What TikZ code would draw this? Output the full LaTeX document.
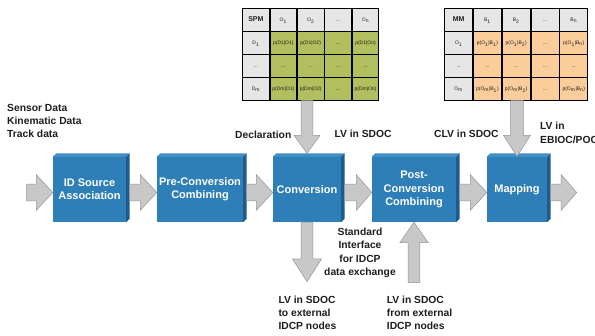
\documentclass[tikz,border=0pt]{standalone}
\usepackage{fontspec}
\setmainfont{Liberation Sans}
\usetikzlibrary{calc,matrix,backgrounds}
\definecolor{boxblue}{RGB}{46,127,184}
\definecolor{boxside}{RGB}{30,92,142}
\definecolor{boxtop}{RGB}{64,142,196}
\definecolor{arrfill}{RGB}{200,200,200}
\definecolor{arrline}{RGB}{150,150,150}
\definecolor{hdrgray}{RGB}{230,230,230}
\definecolor{spmgreen}{RGB}{178,191,94}
\definecolor{mmpeach}{RGB}{251,205,155}
\definecolor{txt}{RGB}{30,30,30}
\newcommand\blockarrow[5]{%
  \coordinate (ba-h) at ($(#2)!#5!(#1)$);
  \filldraw[blockarr] ($(#1)!#3!90:(#2)$) -- ($(ba-h)!#3!-90:(#1)$) -- ($(ba-h)!#4!-90:(#1)$) -- (#2) -- ($(ba-h)!#4!90:(#1)$) -- ($(ba-h)!#3!90:(#1)$) -- ($(#1)!#3!-90:(#2)$) -- cycle;}
\newcommand\threed[1]{%
  \fill[boxtop] (#1.north west) -- ++(3.5pt,3.5pt) -- ([shift={(3.5pt,3.5pt)}]#1.north east) -- (#1.north east) -- cycle;
  \fill[boxside] (#1.north east) -- ++(3.5pt,3.5pt) -- ([shift={(3.5pt,3.5pt)}]#1.south east) -- (#1.south east) -- cycle;}
\tikzset{
  blockarr/.style={fill=arrfill, draw=arrline, line width=0.5pt, line join=miter},
  box/.style={fill=boxblue, text=white, font=\bfseries\fontsize{11}{13.3}\selectfont, align=center, inner sep=0pt, minimum height=65pt},
  lbl/.style={font=\bfseries\fontsize{10.3}{13.3}\selectfont, text=txt, inner sep=0pt},
  tbl/.style={matrix of nodes, anchor=north west, inner sep=0pt, column sep=0pt, row sep=0pt,
    nodes={draw=black, line width=0.8pt, inner sep=0pt, outer sep=0pt, minimum height=22.2pt,
      text height=4pt, text depth=1.2pt, anchor=center,
      font=\fontsize{5}{6}\selectfont, text=txt}},
  hdr/.style={font=\bfseries\fontsize{7}{8}\selectfont}
}
\begin{document}
\begin{tikzpicture}[x=1pt,y=-1pt]
\useasboundingbox[fill=white] (0,0) rectangle (595,336);

% tables
\matrix (spm) [tbl, nodes={minimum width=26.6pt, fill=spmgreen},
  row 1/.style={nodes={fill=hdrgray}}, column 1/.style={nodes={fill=hdrgray}}] at (242,8.3) {
|[hdr]| SPM & O\textsubscript{1} & O\textsubscript{2} & ... & O\textsubscript{n} \\
D\textsubscript{1} & p(D1\textbar O1) & p(D1\textbar O2) & ... & p(D1\textbar On) \\
... & ... & ... & ... & ... \\
D\textsubscript{m} & p(Dm\textbar O1) & p(Dm\textbar O2) & ... & p(Dm\textbar On) \\
};
\matrix (mm) [tbl, nodes={minimum width=28pt, fill=mmpeach},
  row 1/.style={nodes={fill=hdrgray}}, column 1/.style={nodes={fill=hdrgray}}] at (444,8.3) {
|[hdr]| MM & B\textsubscript{1} & B\textsubscript{2} & ... & B\textsubscript{n} \\
O\textsubscript{1} & p(O\textsubscript{1}\textbar B\textsubscript{1}) & p(O\textsubscript{1}\textbar B\textsubscript{2}) & ... & p(O\textsubscript{1}\textbar B\textsubscript{n}) \\
... & ... & ... & ... & ... \\
O\textsubscript{m} & p(O\textsubscript{m}\textbar B\textsubscript{1}) & p(O\textsubscript{m}\textbar B\textsubscript{2}) & ... & p(O\textsubscript{m}\textbar B\textsubscript{n}) \\
};
\begin{scope}[on background layer]
\fill[black!35] ([shift={(1.5pt,-1.8pt)}]spm.south west) rectangle ([shift={(1.5pt,-1.8pt)}]spm.north east);
\fill[black!35] ([shift={(1.5pt,-1.8pt)}]mm.south west) rectangle ([shift={(1.5pt,-1.8pt)}]mm.north east);
\end{scope}

% boxes
\node[box, minimum width=73pt] (idsa) at (89.5,189.5) {ID Source\\Association};
\node[box, minimum width=86pt] (pcc) at (200,189.5) {Pre-Conversion\\Combining};
\node[box, minimum width=68pt] (conv) at (307,189.5) {Conversion};
\node[box, minimum width=84pt] (post) at (414,189.5) {Post-\\Conversion\\Combining};
\node[box, minimum width=60pt] (map) at (517,189.5) {Mapping};
\foreach \b in {idsa,pcc,conv,post,map} {\threed{\b}}

% horizontal arrows
\coordinate (in) at (26.7,192.5);
\coordinate (out) at (576.7,192.5);
\coordinate (a0) at ([yshift=-3pt]idsa.west);
\coordinate (a1s) at ([xshift=3.5pt,yshift=-3pt]idsa.east);
\coordinate (a1e) at ([yshift=-3pt]pcc.west);
\coordinate (a2s) at ([xshift=3.5pt,yshift=-3pt]pcc.east);
\coordinate (a2e) at ([yshift=-3pt]conv.west);
\coordinate (a3s) at ([xshift=3.5pt,yshift=-3pt]conv.east);
\coordinate (a3e) at ([yshift=-3pt]post.west);
\coordinate (a4s) at ([xshift=3.5pt,yshift=-3pt]post.east);
\coordinate (a4e) at ([yshift=-3pt]map.west);
\coordinate (a5s) at ([xshift=3.5pt,yshift=-3pt]map.east);
\blockarrow{in}{a0}{8.3pt}{17.8pt}{16.5pt}
\blockarrow{a1s}{a1e}{8.3pt}{17.8pt}{16.5pt}
\blockarrow{a2s}{a2e}{8.3pt}{17.8pt}{16.5pt}
\blockarrow{a3s}{a3e}{8.3pt}{17.8pt}{15.5pt}
\blockarrow{a4s}{a4e}{8.3pt}{17.8pt}{16.5pt}
\blockarrow{a5s}{out}{8.3pt}{17.8pt}{15.5pt}

% vertical arrows
\coordinate (v1s) at (conv.north |- spm.south);
\coordinate (v1e) at ([yshift=3.5pt]conv.north);
\blockarrow{v1s}{v1e}{5.8pt}{13pt}{18pt}
\coordinate (v2s) at (map.north |- mm.south);
\coordinate (v2e) at ([yshift=0.5pt]map.north);
\blockarrow{v2s}{v2e}{6.3pt}{13.5pt}{21pt}
\coordinate (v3e) at (307,281.7);
\blockarrow{conv.south}{v3e}{5.8pt}{14.5pt}{22.7pt}
\coordinate (v4s) at (414,282.7);
\blockarrow{v4s}{post.south}{5.8pt}{14.2pt}{20.5pt}

% labels
\node[lbl, anchor=west, align=left] (inputs) at (7,121) {Sensor Data\\Kinematic Data\\Track data};
\node[lbl, anchor=west] (decl) at (235,135) {Declaration};
\node[lbl, anchor=west] (lv1) at (334.3,134.3) {LV in SDOC};
\node[lbl, anchor=west] (clv) at (434,134) {CLV in SDOC};
\node[lbl, anchor=west, align=left] (lvebioc) at (540,133) {LV in\\EBIOC/POC};
\node[lbl, align=center] (std) at (360,253) {Standard\\Interface\\for IDCP\\data exchange};
\node[lbl, anchor=west, align=left] (toext) at (278.3,312.7) {LV in SDOC\\to external\\IDCP nodes};
\node[lbl, anchor=west, align=left] (fromext) at (386.7,312.7) {LV in SDOC\\from external\\IDCP nodes};
\end{tikzpicture}
\end{document}
